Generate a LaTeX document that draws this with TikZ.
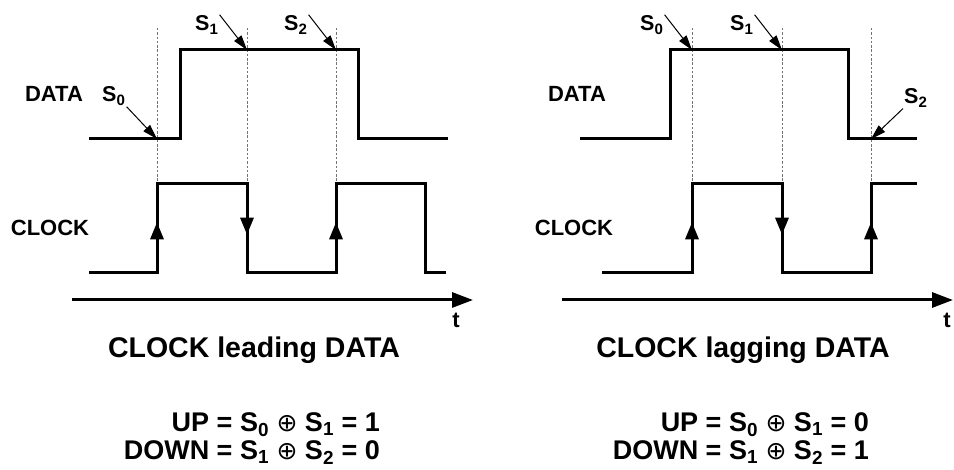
\documentclass[tikz,border=0pt]{standalone}
\usepackage{fontspec}
\setmainfont{Liberation Sans}
\newfontfamily\symbfont{DejaVu Sans}
\usetikzlibrary{arrows.meta,decorations.markings}
\newcommand{\xorop}{{\symbfont\mdseries\fontsize{25}{26}\selectfont ⊕}}

\begin{document}
\begin{tikzpicture}[x=1pt, y=-1pt,
  wave/.style={line width=3pt, line join=miter},
  guide/.style={black!55, line width=0.8pt, dash pattern=on 2.5pt off 1.8pt},
  sarrow/.style={-{Triangle[length=15pt,width=9pt]}, line width=1pt},
  axis/.style={-{Triangle[length=21pt,width=15pt]}, line width=3pt},
  edgearrow/.style={postaction={decorate}, decoration={markings,
    mark=at position 0.57 with {\arrow{Triangle[length=17pt,width=13pt]}}}},
  lbl/.style={font=\fontsize{22}{26}\selectfont\bfseries, inner sep=1pt},
  slbl/.style={font=\fontsize{21.5}{26}\selectfont\bfseries, inner sep=1pt},
  title/.style={font=\fontsize{28.5}{34}\selectfont\bfseries, inner sep=0pt},
  eqn/.style={font=\fontsize{27}{28}\selectfont\bfseries, inner sep=0pt,
    align=right, anchor=north east}]
  \useasboundingbox (0,0) rectangle (954,470);
  \def\Dlo{139}
  \def\Dhi{50}
  \def\Clo{273}
  \def\Chi{184}
  \def\Gtop{28}
  % ---------------- clock leading data ----------------
  % sampling instants
  \draw[guide] (157,\Gtop) -- (157,\Chi);
  \draw[guide] (247,\Gtop) -- (247,\Chi);
  \draw[guide] (336,\Gtop) -- (336,\Chi);
  % data
  \draw[wave] (89,\Dlo) -- (180,\Dlo) -- (180,\Dhi) -- (358,\Dhi)
    -- (358,\Dlo) -- (448,\Dlo);
  % clock
  \draw[wave] (89,\Clo) -- (157,\Clo) -- (157,\Chi) -- (247,\Chi)
    -- (247,\Clo) -- (336,\Clo) -- (336,\Chi) -- (425,\Chi)
    -- (425,\Clo) -- (446,\Clo);
  \draw[wave, edgearrow] (157,\Clo) -- (157,\Chi);
  \draw[wave, edgearrow] (247,\Chi) -- (247,\Clo);
  \draw[wave, edgearrow] (336,\Clo) -- (336,\Chi);
  % labels and samples
  \node[lbl, anchor=base] (dataL) at (54,102) {DATA};
  \node[lbl, anchor=base] (clkL) at (50,236) {CLOCK};
  \node[slbl, anchor=base west] (sL0) at (101,102) {S\textsubscript{0}};
  \node[slbl, anchor=base west] (sL1) at (194,31) {S\textsubscript{1}};
  \node[slbl, anchor=base west] (sL2) at (283,31) {S\textsubscript{2}};
  \coordinate (pL0) at (157,\Dlo);
  \coordinate (pL1) at (247,\Dhi);
  \coordinate (pL2) at (336,\Dhi);
  \draw[sarrow] (sL0.south east) -- (pL0);
  \draw[sarrow] (sL1.north east) -- (pL1);
  \draw[sarrow] (sL2.north east) -- (pL2);
  % time axis
  \coordinate (axL0) at (72,300);
  \coordinate (axL1) at (473,300);
  \draw[axis] (axL0) -- (axL1);
  \node[lbl, anchor=base] (tL) at (456,328) {t};
  \node[title, anchor=base] (titleL) at (254,358) {CLOCK leading DATA};
  \node[eqn] (eqL) at (380,412.5)
    {UP = S\textsubscript{0} \xorop{} S\textsubscript{1} = 1\\
     DOWN = S\textsubscript{1} \xorop{} S\textsubscript{2} = 0};
  % ---------------- clock lagging data ----------------
  % sampling instants
  \draw[guide] (692,\Gtop) -- (692,\Chi);
  \draw[guide] (782,\Gtop) -- (782,\Chi);
  \draw[guide] (871,\Gtop) -- (871,\Chi);
  % data
  \draw[wave] (580,\Dlo) -- (670,\Dlo) -- (670,\Dhi) -- (848,\Dhi)
    -- (848,\Dlo) -- (917,\Dlo);
  % clock
  \draw[wave] (602,\Clo) -- (692,\Clo) -- (692,\Chi) -- (782,\Chi)
    -- (782,\Clo) -- (871,\Clo) -- (871,\Chi) -- (917,\Chi);
  \draw[wave, edgearrow] (692,\Clo) -- (692,\Chi);
  \draw[wave, edgearrow] (782,\Chi) -- (782,\Clo);
  \draw[wave, edgearrow] (871,\Clo) -- (871,\Chi);
  % labels and samples
  \node[lbl, anchor=base] (dataR) at (577,102) {DATA};
  \node[lbl, anchor=base] (clkR) at (574,236) {CLOCK};
  \node[slbl, anchor=base west] (sR0) at (639,31) {S\textsubscript{0}};
  \node[slbl, anchor=base west] (sR1) at (729,31) {S\textsubscript{1}};
  \node[slbl, anchor=base west] (sR2) at (903,104) {S\textsubscript{2}};
  \coordinate (pR0) at (692,\Dhi);
  \coordinate (pR1) at (782,\Dhi);
  \coordinate (pR2) at (871,\Dlo);
  \draw[sarrow] (sR0.north east) -- (pR0);
  \draw[sarrow] (sR1.north east) -- (pR1);
  \draw[sarrow] (sR2.south west) -- (pR2);
  % time axis
  \coordinate (axR0) at (562,300);
  \coordinate (axR1) at (953,300);
  \draw[axis] (axR0) -- (axR1);
  \node[lbl, anchor=base] (tR) at (947,328) {t};
  \node[title, anchor=base] (titleR) at (743,358) {CLOCK lagging DATA};
  \node[eqn] (eqR) at (869,412.5)
    {UP = S\textsubscript{0} \xorop{} S\textsubscript{1} = 0\\
     DOWN = S\textsubscript{1} \xorop{} S\textsubscript{2} = 1};
\end{tikzpicture}
\end{document}
